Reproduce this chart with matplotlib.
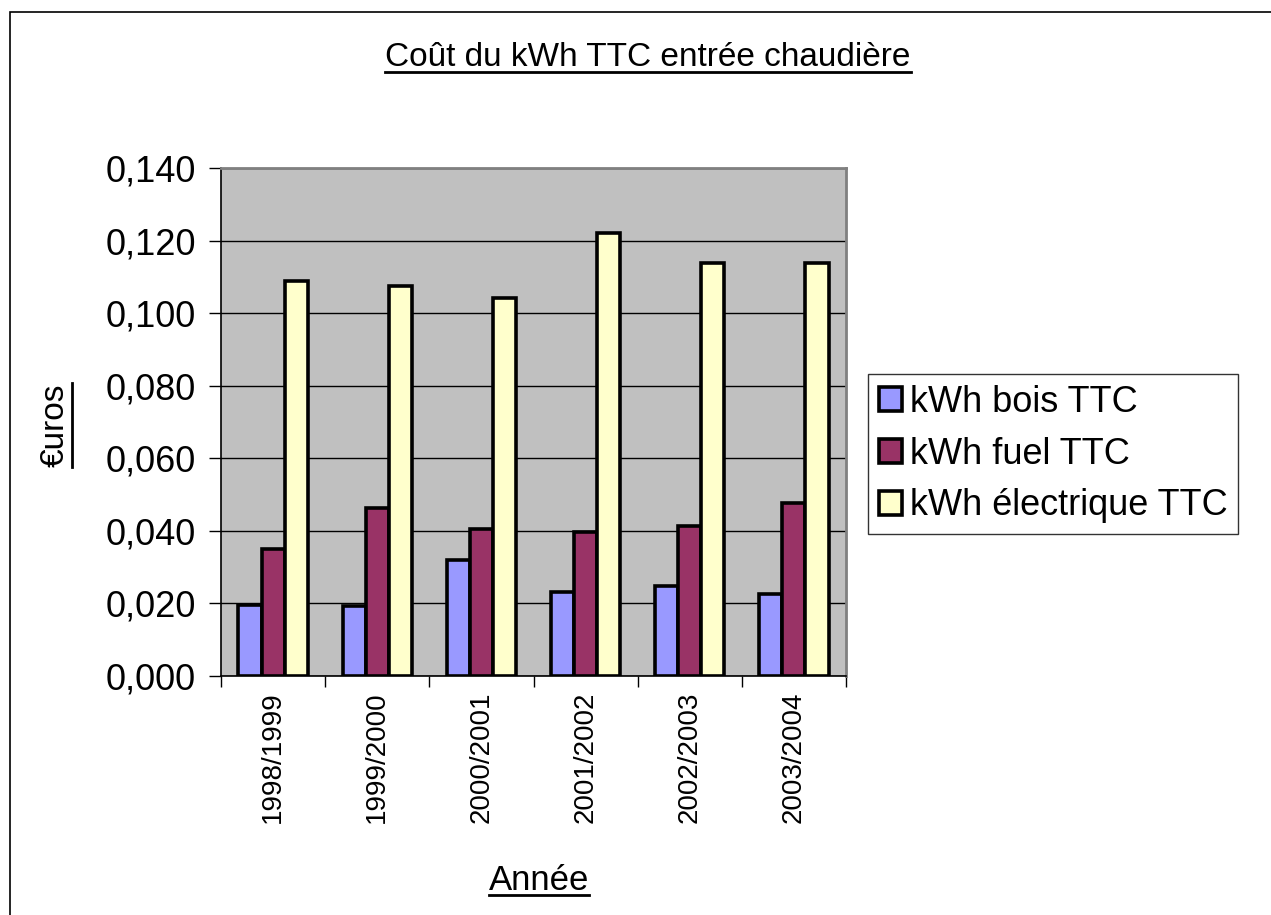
import matplotlib
matplotlib.use("Agg")
import matplotlib.pyplot as plt
import numpy as np
from matplotlib.ticker import FuncFormatter, FixedLocator, NullFormatter
from matplotlib.lines import Line2D
from matplotlib.patches import Rectangle

plt.rcParams['font.family'] = ['Liberation Sans', 'DejaVu Sans']

categories = ["1998/1999", "1999/2000", "2000/2001", "2001/2002", "2002/2003", "2003/2004"]
bois = [0.0197, 0.0194, 0.0321, 0.0232, 0.0247, 0.0227]
fuel = [0.0351, 0.0462, 0.0404, 0.0398, 0.0414, 0.0476]
elec = [0.1089, 0.1075, 0.1041, 0.1220, 0.1137, 0.1137]
series_names = ["kWh bois TTC", "kWh fuel TTC", "kWh électrique TTC"]
colors = ["#9999FF", "#993366", "#FFFFCC"]
yticks = [0.0, 0.02, 0.04, 0.06, 0.08, 0.10, 0.12, 0.14]

W, H = 1271, 915
fig = plt.figure(figsize=(W / 100, H / 100), dpi=100)
fig.patch.set_facecolor("white")

# chart area border
fig.add_artist(Rectangle((10 / W, -0.01), 1.2, 1 - 12 / H + 0.01, transform=fig.transFigure,
                         fill=False, edgecolor="black", linewidth=1.2))

ax = fig.add_axes([221 / W, 1 - 676 / H, (846 - 221) / W, (676 - 168) / H])
ax.set_facecolor("#C0C0C0")

x = np.arange(len(categories))
bw = 1 / 4.5
for i, (vals, c, name) in enumerate(zip([bois, fuel, elec], colors, series_names)):
    ax.bar(x + (i - 1) * bw, vals, width=bw, color=c, edgecolor="black", linewidth=2.6,
           label=name, zorder=3)

ax.set_xlim(-0.5, len(categories) - 0.5)
ax.set_ylim(0, 0.14)
ax.set_yticks(yticks)
ax.yaxis.set_major_formatter(FuncFormatter(lambda v, p: f"{v:.3f}".replace(".", ",")))
ax.grid(axis="y", color="black", linewidth=1.0, zorder=1)
ax.set_axisbelow(True)
ax.tick_params(axis="y", direction="out", length=9, width=1, pad=9, labelsize=26)

ax.set_xticks(x)
ax.set_xticklabels(categories, rotation=90, fontsize=20)
ax.tick_params(axis="x", which="major", length=0, pad=11)
ax.xaxis.set_minor_locator(FixedLocator(np.arange(-0.5, len(categories), 1.0)))
ax.xaxis.set_minor_formatter(NullFormatter())
ax.tick_params(axis="x", which="minor", direction="out", length=8, width=1)

for s in ["top", "right"]:
    ax.spines[s].set_color("#808080")
    ax.spines[s].set_linewidth(2)
for s in ["left", "bottom"]:
    ax.spines[s].set_color("black")
    ax.spines[s].set_linewidth(1.2)

t_title = fig.text(648 / W, 1 - 58 / H, "Coût du kWh TTC entrée chaudière", ha="center", va="center",
                   fontsize=24)
t_x = fig.text(539 / W, 1 - 880 / H, "Année", ha="center", va="center", fontsize=25)
t_y = fig.text(55 / W, 1 - 425 / H, "€uros", ha="center", va="center", rotation=90, fontsize=24)

leg = fig.legend(loc="center left", bbox_to_anchor=(868 / W, 1 - 454 / H), fontsize=26,
                 frameon=True, fancybox=False, edgecolor="black", handlelength=0.65,
                 handleheight=0.65, handletextpad=0.2, labelspacing=0.47, borderpad=0.3,
                 borderaxespad=0)
leg.get_frame().set_linewidth(1.0)
for h in leg.legend_handles:
    h.set_linewidth(2.6)

fig.canvas.draw()
r = fig.canvas.get_renderer()
inv = fig.transFigure.inverted()
for t in [t_title, t_x]:
    bb = t.get_window_extent(r)
    (x0, y0), (x1, y1) = inv.transform([(bb.x0, bb.y0 + 2), (bb.x1, bb.y0 + 2)])
    fig.add_artist(Line2D([x0, x1], [y0, y1], transform=fig.transFigure, color="black", linewidth=2))
bb = t_y.get_window_extent(r)
(x0, y0), (x1, y1) = inv.transform([(bb.x1 + 1, bb.y0), (bb.x1 + 1, bb.y1)])
fig.add_artist(Line2D([x0, x1], [y0, y1], transform=fig.transFigure, color="black", linewidth=2))

fig.savefig("out.png", dpi=100)
